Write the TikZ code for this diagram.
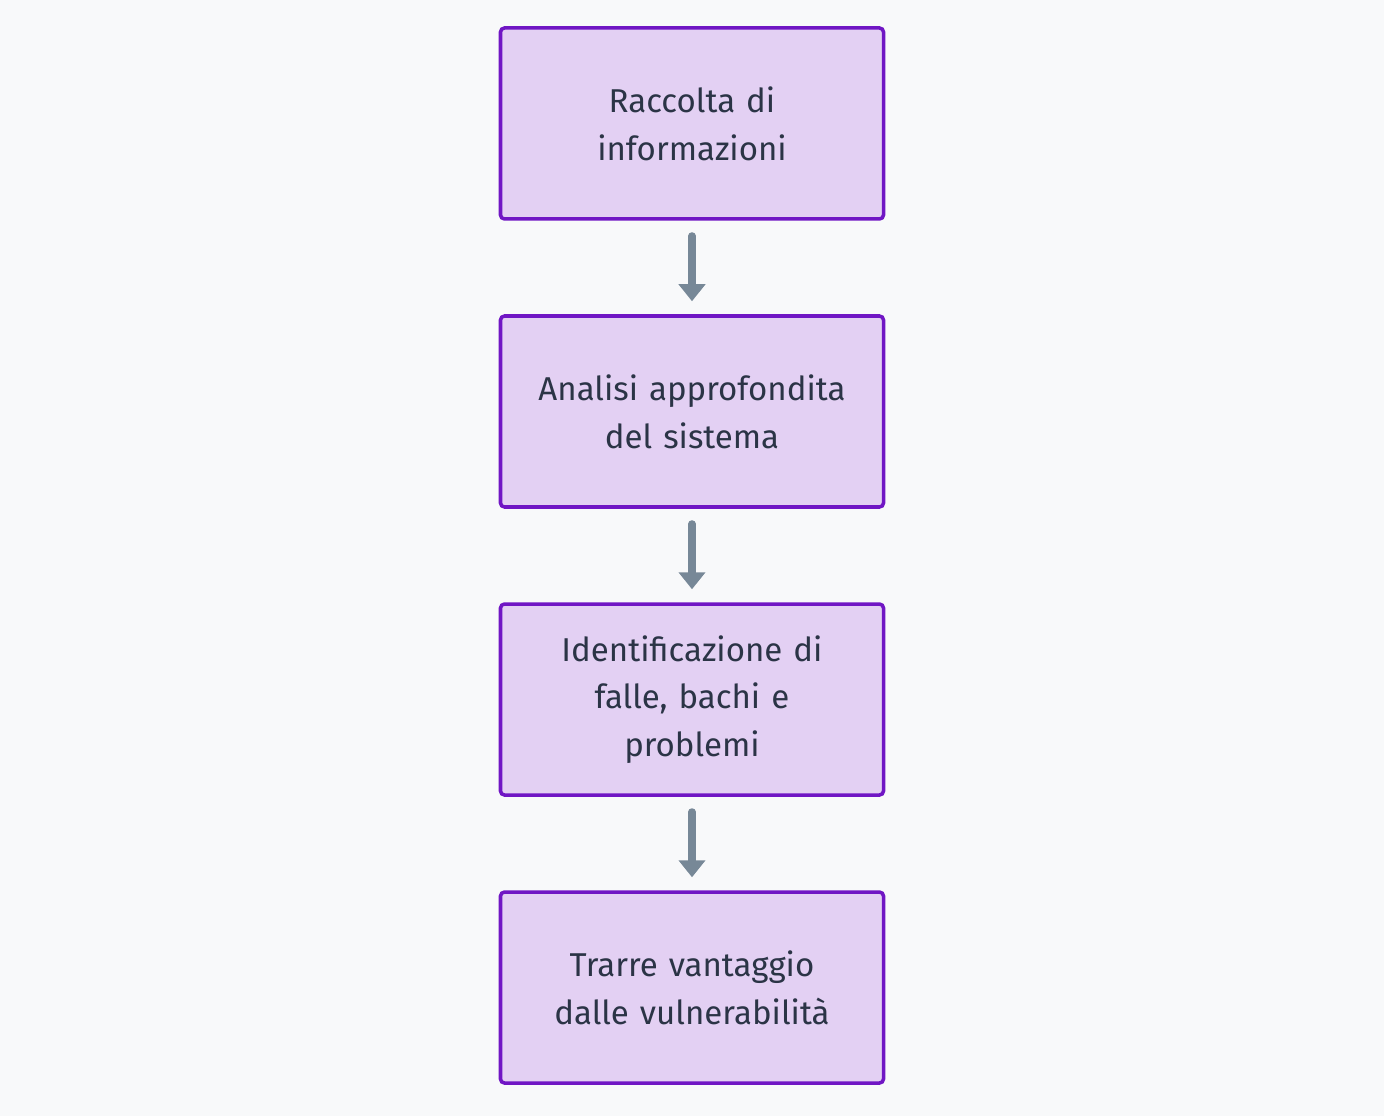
\documentclass[tikz,border=0pt]{standalone}
\usepackage{fontspec}
\setmainfont{Fira Sans}
\usepackage{xcolor}
\usepackage{tikz}
\usetikzlibrary{arrows.meta,positioning}
\definecolor{pagebg}{HTML}{F8F9FA}
\definecolor{lilac}{HTML}{E3D0F3}
\definecolor{violet}{HTML}{7016C4}
\definecolor{slate}{HTML}{778897}
\definecolor{ink}{HTML}{2B3446}
\tikzset{
  stepbox/.style={
    rectangle, draw=violet, fill=lilac, line width=2pt, rounded corners=0.08cm,
    minimum width=7.66cm, minimum height=3.82cm, text width=7.3cm,
    font=\fontsize{18.8}{27.2}\selectfont, text=ink, align=center,
    inner sep=0pt
  },
  flowarrow/.style={
    -{Triangle[width=0.52cm,length=0.34cm]}, line width=4pt, line cap=round,
    color=slate, shorten <=0.30cm, shorten >=0.26cm
  },
}
\begin{document}
\begin{tikzpicture}[node distance=1.87cm]
  \fill[pagebg] (0,0) rectangle (27.68,22.32);
  \useasboundingbox (0,0) rectangle (27.68,22.32);
  \node[stepbox] at (13.84,19.85) (raccolta) {Raccolta di\\informazioni};
  \node[stepbox, below=of raccolta] (analisi) {Analisi approfondita\\del sistema};
  \node[stepbox, below=of analisi] (falle) {Identificazione di\\falle, bachi e\\problemi};
  \node[stepbox, below=of falle] (vantaggio) {Trarre vantaggio\\dalle vulnerabilità};
  \foreach \a/\b in {raccolta/analisi,analisi/falle,falle/vantaggio} { \draw[flowarrow] (\a) -- (\b); }
\end{tikzpicture}
\end{document}
